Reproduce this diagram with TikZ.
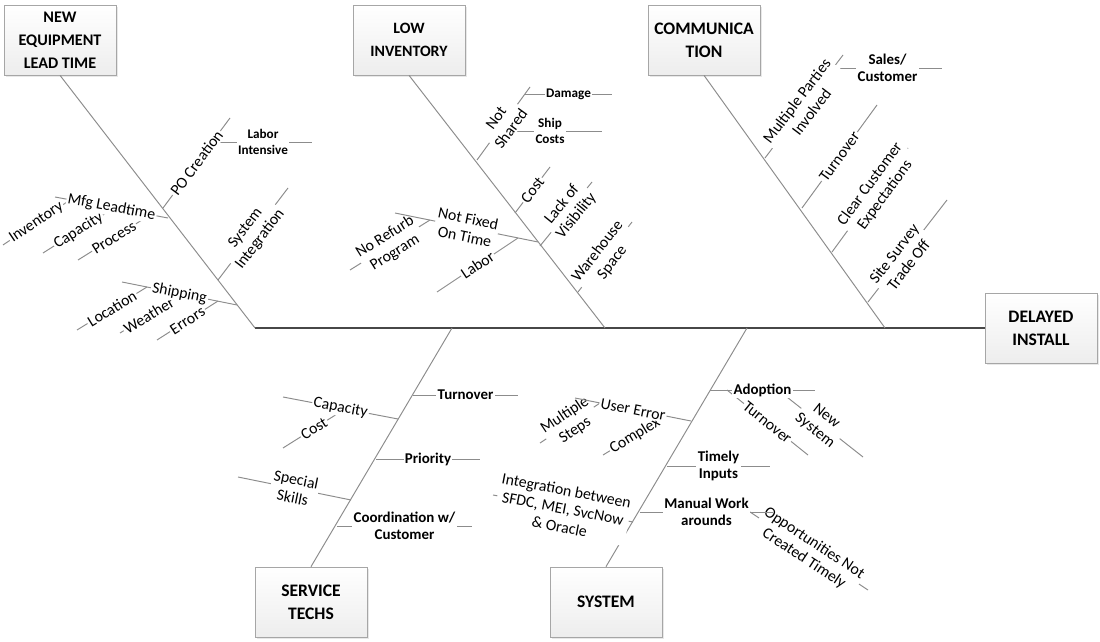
\documentclass[tikz,border=0pt]{standalone}
\usepackage{fontspec}
\setmainfont{Carlito}
\usetikzlibrary{shadows}

\tikzset{
	cause/.style={draw=gray!70, top color=white, bottom color=gray!14, minimum width=2.24cm, minimum height=1.4cm, align=center, inner sep=2pt, font=\fontsize{10}{13}\selectfont\bfseries, drop shadow={opacity=0.18, shadow xshift=1.2pt, shadow yshift=-1.2pt}},
	spine/.style={draw=black!72, line width=1.1pt},
	bone/.style={draw=gray!90, line width=0.55pt},
	lbl/.style={fill=white, inner sep=0.8pt, sloped, align=center, font=\fontsize{9}{10.5}\selectfont},
	sublbl/.style={fill=white, inner sep=0.8pt, align=center, font=\fontsize{8.5}{10}\selectfont\bfseries},
	smalllbl/.style={sublbl, font=\fontsize{7.5}{9.5}\selectfont\bfseries}
}

\begin{document}
\begin{tikzpicture}[x=0.02cm, y=-0.02cm]
	\useasboundingbox (0,0) rectangle (1100,642);

	\node[cause, font=\fontsize{9.2}{13}\selectfont\bfseries] (equip) at (60,40) {NEW\\EQUIPMENT\\LEAD TIME};
	\node[cause, font=\fontsize{9}{13}\selectfont\bfseries] (inv) at (409,40) {LOW\\INVENTORY};
	\node[cause] (comm) at (704,40) {COMMUNICA\\TION};
	\node[cause] (install) at (1041,328) {DELAYED\\INSTALL};
	\node[cause] (techs) at (311,602) {SERVICE\\TECHS};
	\node[cause] (system) at (606,602) {SYSTEM};

	\coordinate (tail) at (255,328);
	\coordinate (jInv) at (605,328);
	\coordinate (jComm) at (885,328);
	\coordinate (jTechs) at (452,328);
	\coordinate (jSys) at (747,328);

	\draw[spine] (tail) -- (install.west);
	\draw[bone] (equip.south) -- (tail);
	\draw[bone] (inv.south) -- (jInv);
	\draw[bone] (comm.south) -- (jComm);
	\draw[bone] (techs.north) -- (jTechs);
	\draw[bone] (system.north) -- (jSys);

	\coordinate (poA) at (163,208); \coordinate (poB) at (230,118);
	\coordinate (labA) at (214,142); \coordinate (labB) at (312,142);
	\coordinate (mfgA) at (168,218); \coordinate (mfgB) at (55,197);
	\coordinate (invA) at (70,200); \coordinate (invB) at (3,245);
	\coordinate (capA) at (114,208); \coordinate (capB) at (43,253);
	\coordinate (procA) at (150,215); \coordinate (procB) at (78,260);
	\coordinate (sysiA) at (218,280); \coordinate (sysiB) at (288,188);
	\coordinate (shipA) at (237,305); \coordinate (shipB) at (122,282);
	\coordinate (locA) at (147,287); \coordinate (locB) at (77,330);
	\coordinate (weaA) at (184,294); \coordinate (weaB) at (120,333);
	\coordinate (errA) at (218,301); \coordinate (errB) at (157,340);

	\coordinate (nsA) at (477,160); \coordinate (nsB) at (530,87);
	\coordinate (dmgA) at (525,94); \coordinate (dmgB) at (612,94);
	\coordinate (scA) at (498,131); \coordinate (scB) at (602,131);
	\coordinate (costA) at (515,213); \coordinate (costB) at (550,167);
	\coordinate (lovA) at (540,246); \coordinate (lovB) at (592,182);
	\coordinate (whA) at (578,292); \coordinate (whB) at (632,222);
	\coordinate (nfA) at (538,242); \coordinate (nfB) at (395,213);
	\coordinate (nrA) at (430,220); \coordinate (nrB) at (350,270);
	\coordinate (lbrA) at (518,238); \coordinate (lbrB) at (437,292);

	\coordinate (mpA) at (765,158); \coordinate (mpB) at (843,55);
	\coordinate (salA) at (833,68); \coordinate (salB) at (942,68);
	\coordinate (toA) at (802,208); \coordinate (toB) at (877,105);
	\coordinate (ccA) at (832,252); \coordinate (ccB) at (908,148);
	\coordinate (ssA) at (868,302); \coordinate (ssB) at (947,200);

	\coordinate (stTurnA) at (413,395); \coordinate (stTurnB) at (518,395);
	\coordinate (capyA) at (398,419); \coordinate (capyB) at (283,397);
	\coordinate (cstA) at (345,409); \coordinate (cstB) at (283,448);
	\coordinate (priA) at (376,459); \coordinate (priB) at (480,459);
	\coordinate (spA) at (351,500); \coordinate (spB) at (238,477);
	\coordinate (crdA) at (337,526); \coordinate (crdB) at (472,526);

	\coordinate (adA) at (710,390); \coordinate (adB) at (815,390);
	\coordinate (nsysA) at (778,390); \coordinate (nsysB) at (863,457);
	\coordinate (sysTurnA) at (727,390); \coordinate (sysTurnB) at (808,455);
	\coordinate (ueA) at (691,421); \coordinate (ueB) at (575,398);
	\coordinate (msA) at (600,403); \coordinate (msB) at (540,443);
	\coordinate (cxA) at (667,416); \coordinate (cxB) at (603,455);
	\coordinate (tiA) at (667,466); \coordinate (tiB) at (770,466);
	\coordinate (mwA) at (640,512); \coordinate (mwB) at (773,512);
	\coordinate (opA) at (750,512); \coordinate (opB) at (868,590);
	\coordinate (intA) at (633,522); \coordinate (intB) at (493,495);

	\draw[bone] (labA) -- (labB) node[smalllbl, midway] (labLbl) {Labor\\Intensive};
	\draw[bone] (invA) -- (invB) node[lbl, midway] (invLbl) {Inventory};
	\draw[bone] (capA) -- (capB) node[lbl, midway] (capLbl) {Capacity};
	\draw[bone] (procA) -- (procB) node[lbl, midway] (procLbl) {Process};
	\draw[bone] (locA) -- (locB) node[lbl, midway] (locLbl) {Location};
	\draw[bone] (weaA) -- (weaB) node[lbl, pos=0.55] (weaLbl) {Weather};
	\draw[bone] (errA) -- (errB) node[lbl, midway] (errLbl) {Errors};
	\draw[bone] (dmgA) -- (dmgB) node[smalllbl, midway] (dmgLbl) {Damage};
	\draw[bone] (scA) -- (scB) node[smalllbl, midway] (scLbl) {Ship\\Costs};
	\draw[bone] (nrA) -- (nrB) node[lbl, midway] (nrLbl) {No Refurb\\Program};
	\draw[bone] (lbrA) -- (lbrB) node[lbl, midway] (lbrLbl) {Labor};
	\draw[bone] (salA) -- (salB) node[sublbl, midway] (salLbl) {Sales/\\Customer};
	\draw[bone] (cstA) -- (cstB) node[lbl, midway] (cstLbl) {Cost};
	\draw[bone] (nsysA) -- (nsysB) node[lbl, midway] (nsysLbl) {New\\System};
	\draw[bone] (sysTurnA) -- (sysTurnB) node[lbl, midway] (sysTurnLbl) {Turnover};
	\draw[bone] (msA) -- (msB) node[lbl, midway] (msLbl) {Multiple\\Steps};
	\draw[bone] (cxA) -- (cxB) node[lbl, midway] (cxLbl) {Complex};
	\draw[bone] (opA) -- (opB) node[lbl, midway] (opLbl) {Opportunities Not\\Created Timely};

	\draw[bone] (poA) -- (poB) node[lbl, midway] (poLbl) {PO Creation};
	\draw[bone] (mfgA) -- (mfgB) node[lbl, midway] (mfgLbl) {Mfg Leadtime};
	\draw[bone] (sysiA) -- (sysiB) node[lbl, midway] (sysiLbl) {System\\Integration};
	\draw[bone] (shipA) -- (shipB) node[lbl, midway] (shipLbl) {Shipping};

	\draw[bone] (nsA) -- (nsB) node[lbl, midway] (nsLbl) {Not\\Shared};
	\draw[bone] (costA) -- (costB) node[lbl, midway] (costLbl) {Cost};
	\draw[bone] (lovA) -- (lovB) node[lbl, pos=0.56] (lovLbl) {Lack of\\Visibility};
	\draw[bone] (whA) -- (whB) node[lbl, midway] (whLbl) {Warehouse\\Space};
	\draw[bone] (nfA) -- (nfB) node[lbl, midway] (nfLbl) {Not Fixed\\On Time};

	\draw[bone] (mpA) -- (mpB) node[lbl, midway] (mpLbl) {Multiple Parties\\Involved};
	\draw[bone] (toA) -- (toB) node[lbl, midway] (toLbl) {Turnover};
	\draw[bone] (ccA) -- (ccB) node[lbl, pos=0.6] (ccLbl) {Clear Customer\\Expectations};
	\draw[bone] (ssA) -- (ssB) node[lbl, pos=0.42] (ssLbl) {Site Survey\\Trade Off};

	\draw[bone] (stTurnA) -- (stTurnB) node[sublbl, midway] (stTurnLbl) {Turnover};
	\draw[bone] (capyA) -- (capyB) node[lbl, midway] (capyLbl) {Capacity};
	\draw[bone] (priA) -- (priB) node[sublbl, midway] (priLbl) {Priority};
	\draw[bone] (spA) -- (spB) node[lbl, midway] (spLbl) {Special\\Skills};
	\draw[bone] (crdA) -- (crdB) node[sublbl, midway] (crdLbl) {Coordination w/\\Customer};

	\draw[bone] (adA) -- (adB) node[sublbl, midway] (adLbl) {Adoption};
	\draw[bone] (ueA) -- (ueB) node[lbl, midway] (ueLbl) {User Error};
	\draw[bone] (tiA) -- (tiB) node[sublbl, midway] (tiLbl) {Timely\\Inputs};
	\draw[bone] (mwA) -- (mwB) node[sublbl, midway] (mwLbl) {Manual Work\\arounds};
	\draw[bone] (intA) -- (intB) node[lbl, midway] (intLbl) {Integration between\\SFDC, MEI, SvcNow\\\& Oracle};
\end{tikzpicture}
\end{document}
